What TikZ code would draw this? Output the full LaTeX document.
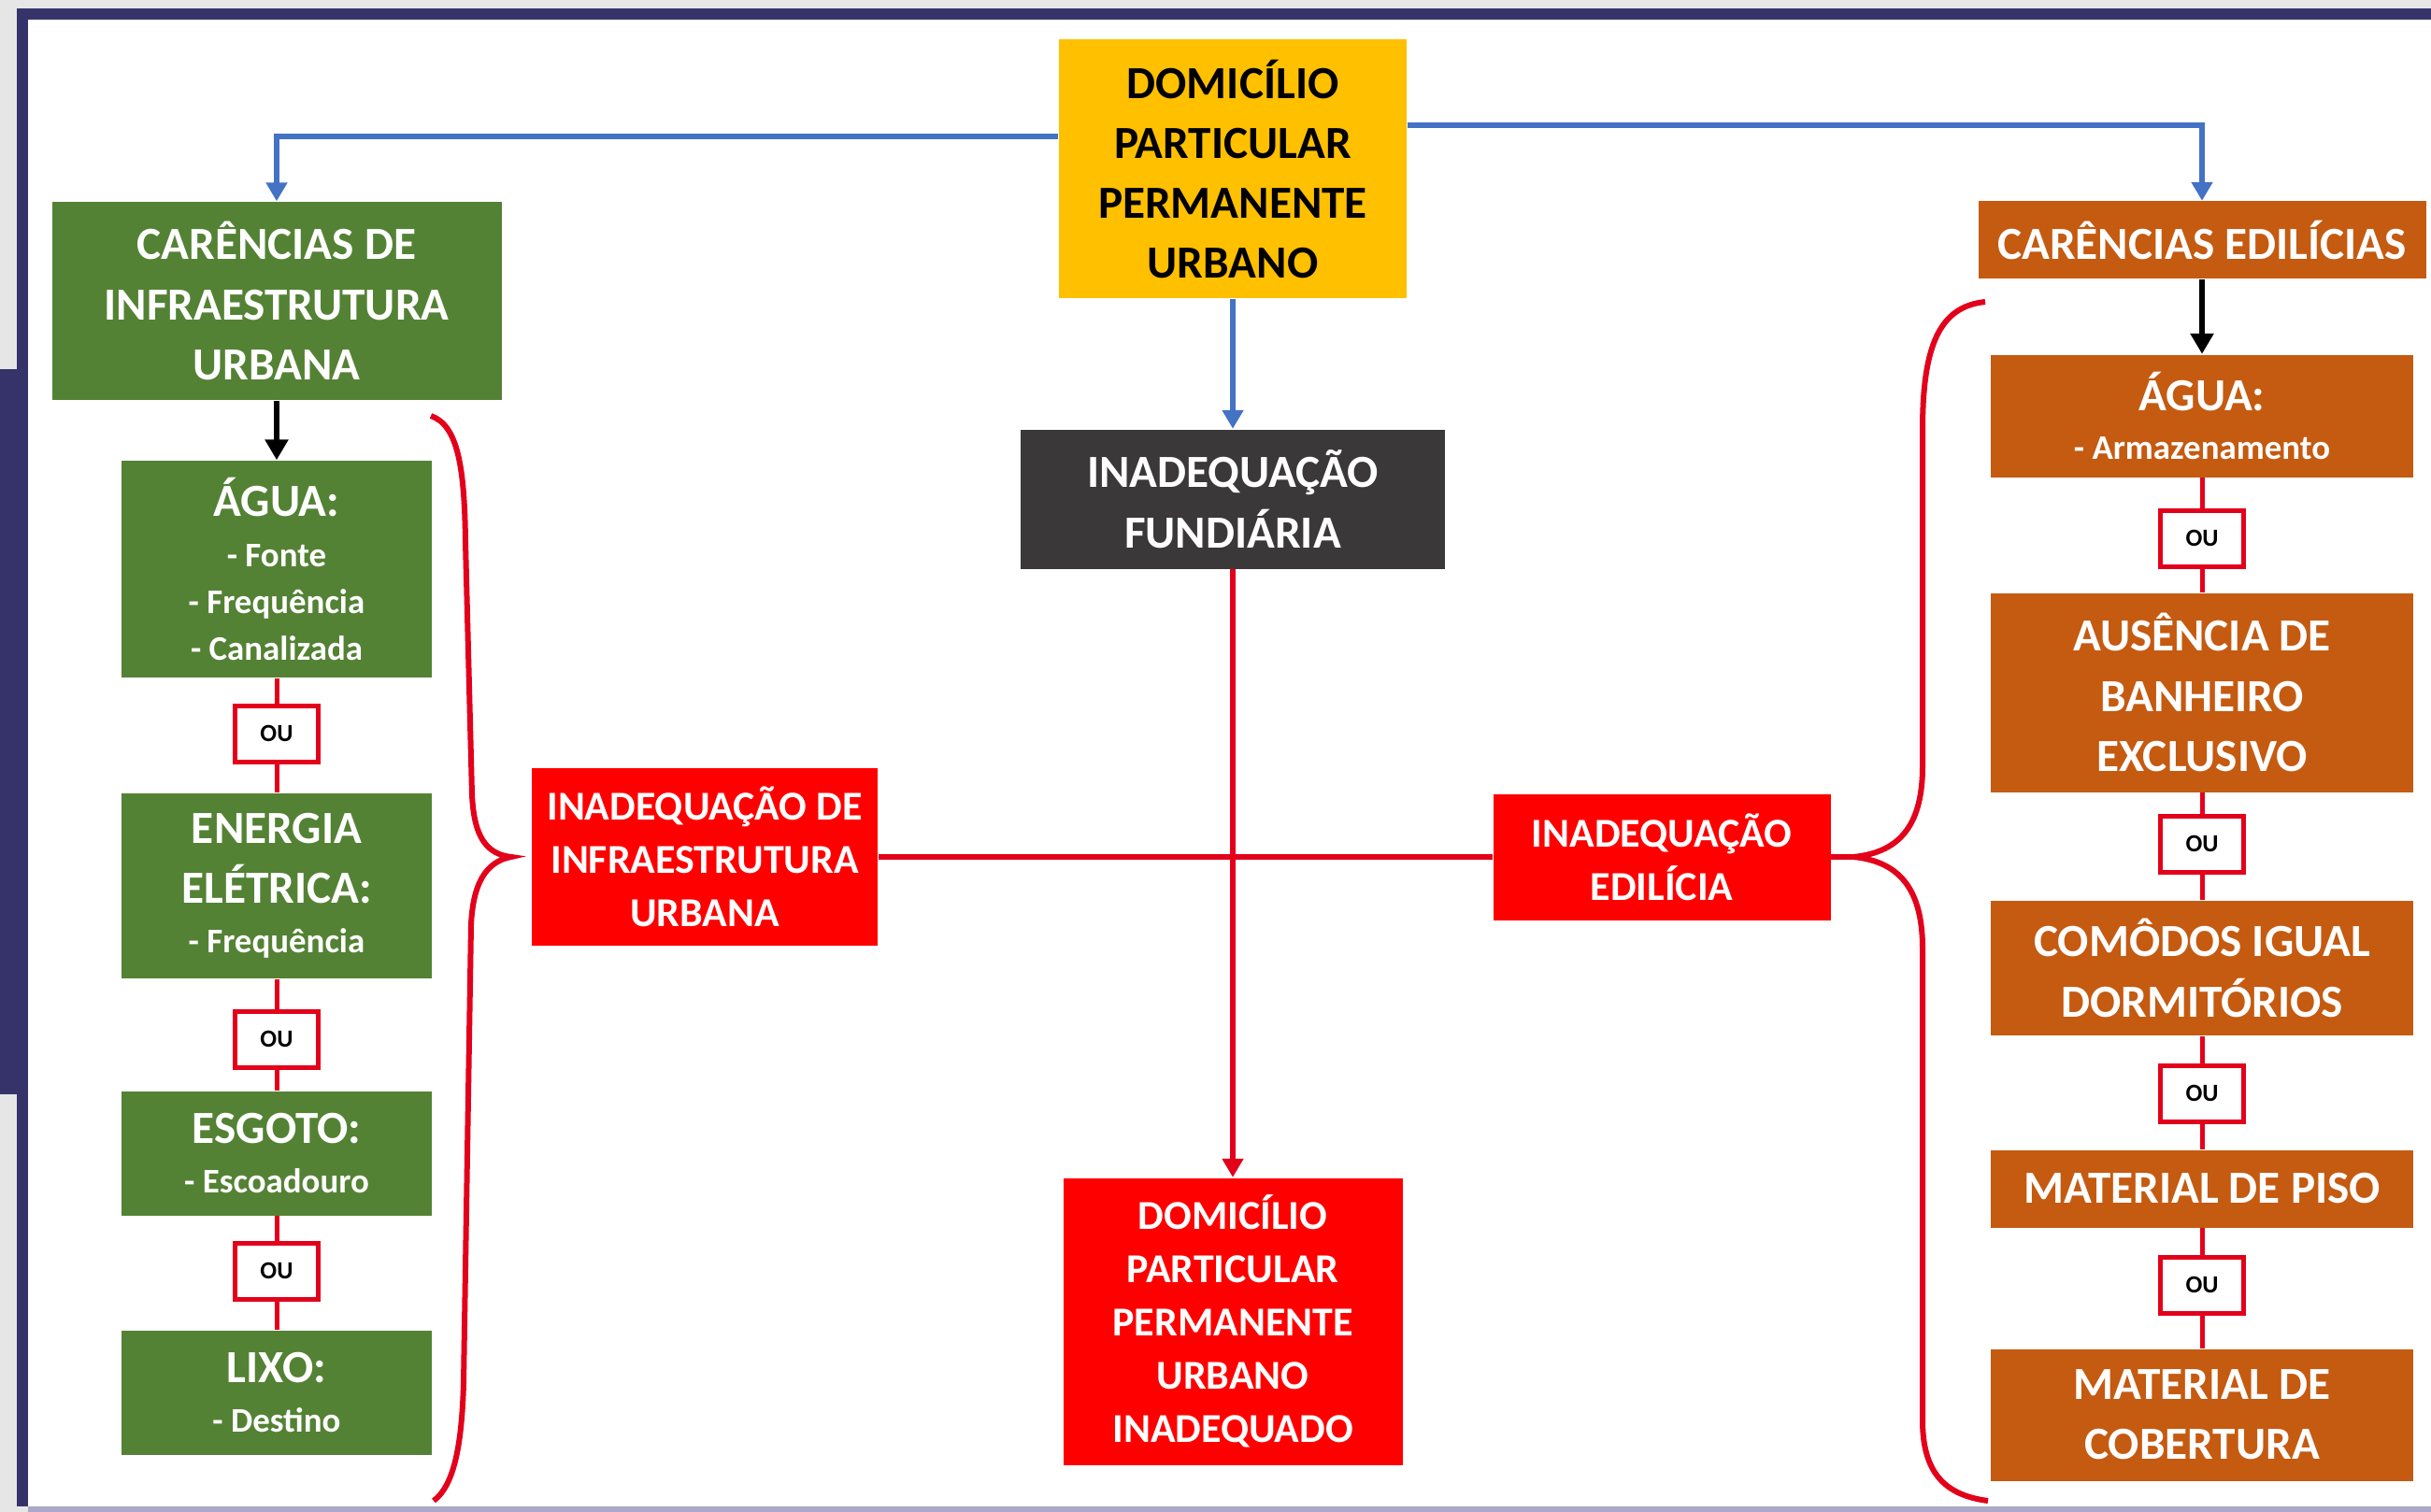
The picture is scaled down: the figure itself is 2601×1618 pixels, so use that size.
\documentclass[tikz,border=0pt]{standalone}
\usepackage{fontspec}
\setmainfont{Carlito}
\usetikzlibrary{arrows.meta}

\definecolor{verdeinfra}{HTML}{548235}
\definecolor{laranjaedil}{HTML}{C55A11}
\definecolor{amarelo}{HTML}{FFC000}
\definecolor{cinzaescuro}{HTML}{3A3838}
\definecolor{vermelho}{HTML}{FF0000}
\definecolor{vermelholinha}{HTML}{E3001B}
\definecolor{azul}{HTML}{4472C4}
\definecolor{marinho}{HTML}{36336B}
\definecolor{fundo}{HTML}{E6E6E6}
\definecolor{lavanda}{HTML}{ABA8C8}

\newcommand{\txtgrande}{\fontsize{14}{18.3}\selectfont\bfseries}
\newcommand{\txtmedio}{\fontsize{12.5}{16.2}\selectfont\bfseries}
\newcommand{\txtpequeno}{\fontsize{10.5}{14.2}\selectfont\bfseries}

\begin{document}
\begin{tikzpicture}
        [x=0.1mm,y=-0.1mm,
        boxdecorate/.style={shape=rectangle,inner sep=0pt,align=center,text=white,font=\txtgrande},
        infradecorate/.style={boxdecorate,fill=verdeinfra,minimum width=33.2mm},
        edildecorate/.style={boxdecorate,fill=laranjaedil,minimum width=45.2mm},
        inadecorate/.style={boxdecorate,fill=vermelho,font=\txtmedio},
        oudecorate/.style={shape=rectangle,draw=vermelholinha,line width=0.5mm,fill=white,
          minimum width=8.9mm,minimum height=6mm,inner sep=0pt,font=\fontsize{7.5}{9}\selectfont\bfseries},
        oulinkdecorate/.style={-,draw=vermelholinha,line width=0.5mm},
        bluearrowdecorate/.style={-{Triangle[width=2.2mm,length=2mm]},draw=azul,line width=0.6mm},
        blackarrowdecorate/.style={-{Triangle[width=2.4mm,length=2.2mm]},draw=black,line width=0.6mm},
        redarrowdecorate/.style={-{Triangle[width=2.2mm,length=2mm]},draw=vermelholinha,line width=0.6mm},
        bracedecorate/.style={draw=vermelholinha,line width=0.6mm}]
        \useasboundingbox (0,0) rectangle (2601,1618);
        %% frame
        \fill[fundo] (0,0) rectangle (2601,1618);
        \fill[marinho] (18,9) rectangle (2601,1612);
        \fill[white] (30,21) rectangle (2601,1612);
        \fill[lavanda] (30,1612) rectangle (2601,1618);
        \fill[marinho] (0,395) rectangle (30,1171);

        %% main nodes
        \node[boxdecorate,fill=amarelo,text=black,minimum width=37.2mm,minimum height=27.7mm]
          (urbano) at (1319,181) {DOMICÍLIO\\PARTICULAR\\PERMANENTE\\URBANO};
        \node[boxdecorate,fill=verdeinfra,minimum width=48.1mm,minimum height=21.2mm]
          (carinfra) at (296,322) {CARÊNCIAS DE\\INFRAESTRUTURA\\URBANA};
        \node[boxdecorate,fill=laranjaedil,minimum width=47.9mm,minimum height=8.3mm]
          (caredil) at (2356,257) {CARÊNCIAS EDILÍCIAS};
        \node[boxdecorate,fill=cinzaescuro,minimum width=45.4mm,minimum height=14.9mm]
          (fundiaria) at (1319,534) {INADEQUAÇÃO\\FUNDIÁRIA};
        \node[inadecorate,minimum width=36.3mm,minimum height=30.7mm]
          (inadequado) at (1319,1414) {DOMICÍLIO\\PARTICULAR\\PERMANENTE\\URBANO\\INADEQUADO};
        \node[inadecorate,minimum width=37mm,minimum height=19mm]
          (inainfra) at (754,917) {INADEQUAÇÃO DE\\INFRAESTRUTURA\\URBANA};
        \node[inadecorate,minimum width=36.1mm,minimum height=13.5mm]
          (inaedil) at (1778,917) {INADEQUAÇÃO\\EDILÍCIA};

        %% infrastructure column
        \node[infradecorate,font=\txtpequeno,minimum height=23.2mm] (aguainfra) at (296,609)
          {{\txtgrande ÁGUA:}\\[1.2pt]- Fonte\\- Frequência\\- Canalizada};
        \node[infradecorate,font=\txtpequeno,minimum height=19.8mm] (energia) at (296,948)
          {{\txtgrande ENERGIA}\\[4pt]{\txtgrande ELÉTRICA:}\\[0.8pt]- Frequência};
        \node[infradecorate,font=\txtpequeno,minimum height=13.3mm] (esgoto) at (296,1234)
          {{\txtgrande ESGOTO:}\\[0.8pt]- Escoadouro};
        \node[infradecorate,font=\txtpequeno,minimum height=13.3mm] (lixo) at (296,1490)
          {{\txtgrande LIXO:}\\[0.8pt]- Destino};

        %% building column
        \node[edildecorate,font=\txtpequeno,minimum height=13.1mm] (aguaedil) at (2356,445)
          {{\txtgrande ÁGUA:}\\[0.6pt]- Armazenamento};
        \node[edildecorate,minimum height=21.3mm] (banheiro) at (2356,741)
          {AUSÊNCIA DE\\BANHEIRO\\EXCLUSIVO};
        \node[edildecorate,minimum height=14.4mm] (comodos) at (2356,1036)
          {COMÔDOS IGUAL\\DORMITÓRIOS};
        \node[edildecorate,minimum height=8.3mm] (piso) at (2356,1272) {MATERIAL DE PISO};
        \node[edildecorate,minimum height=14.1mm] (cobertura) at (2356,1514)
          {MATERIAL DE\\COBERTURA};

        %% ou boxes
        \foreach \nodename/\x/\y in {ou1/296/785, ou2/296/1112, ou3/296/1360,
          ou4/2356/576, ou5/2356/903, ou6/2356/1170, ou7/2356/1375}
        {
          \node[oudecorate] (\nodename) at (\x,\y) {OU};
        }

        %% edges or lines
        \path
        \foreach \startnode/\endnode in {aguainfra/ou1, ou1/energia, energia/ou2, ou2/esgoto,
          esgoto/ou3, ou3/lixo, aguaedil/ou4, ou4/banheiro, banheiro/ou5, ou5/comodos,
          comodos/ou6, ou6/piso, piso/ou7, ou7/cobertura}
        {
          (\startnode) edge[oulinkdecorate] (\endnode)
        };

        \draw[bluearrowdecorate] ([yshift=3.5mm]urbano.west) -| (carinfra.north);
        \draw[bluearrowdecorate] ([yshift=4.7mm]urbano.east) -| (caredil.north);
        \draw[bluearrowdecorate] (urbano) -- (fundiaria);
        \draw[blackarrowdecorate] (carinfra) -- (aguainfra);
        \draw[blackarrowdecorate] (caredil) -- (aguaedil);
        \draw[redarrowdecorate] (fundiaria) -- (inadequado);
        \draw[bracedecorate] (inainfra) -- (inaedil);

        %% braces
        \coordinate (pontaesq) at (547,917);
        \coordinate (pontadir) at (1983,917);
        \draw[bracedecorate] (461,445) .. controls (490,455) and (497,500) .. (498,580)
          -- (505,850) .. controls (507,895) and (520,914) .. (pontaesq)
          .. controls (520,922) and (506,945) .. (504,990)
          -- (496,1480) .. controls (494,1550) and (485,1590) .. (464,1606);
        \draw[bracedecorate] (inaedil) -- (pontadir);
        \draw[bracedecorate] (2124,323) .. controls (2075,328) and (2057,370) .. (2057,460)
          -- (2057,820) .. controls (2057,880) and (2035,912) .. (pontadir)
          .. controls (2035,922) and (2057,955) .. (2057,1015)
          -- (2057,1520) .. controls (2057,1575) and (2080,1600) .. (2127,1606);
      \end{tikzpicture}
\end{document}
